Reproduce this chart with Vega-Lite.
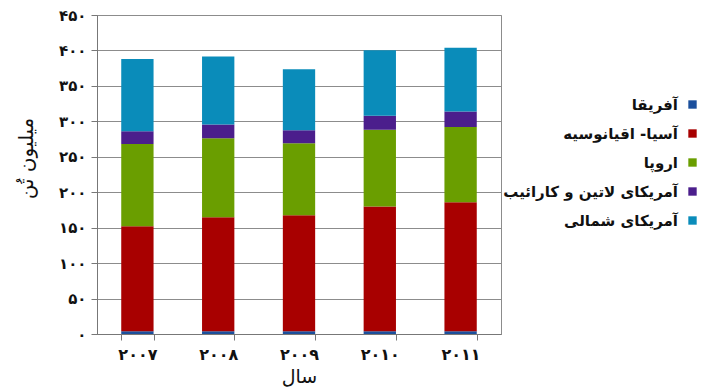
{
  "$schema": "https://vega.github.io/schema/vega-lite/v6.json",
  "width": 404,
  "height": 319,
  "autosize": "none",
  "padding": {"left": 97, "top": 15, "right": 216, "bottom": 56},
  "background": "white",
  "config": {
    "font": "DejaVu Sans",
    "view": {"stroke": "#8c8c8c", "strokeWidth": 1}
  },
  "data": {
    "values": [
      {"year": "۲۰۰۷", "region": "آفریقا", "k": 1, "value": 4},
      {"year": "۲۰۰۷", "region": "آسیا- اقیانوسیه", "k": 2, "value": 148},
      {"year": "۲۰۰۷", "region": "اروپا", "k": 3, "value": 116},
      {"year": "۲۰۰۷", "region": "آمریکای لاتین و کارائیب", "k": 4, "value": 18},
      {"year": "۲۰۰۷", "region": "آمریکای شمالی", "k": 5, "value": 102},
      {"year": "۲۰۰۸", "region": "آفریقا", "k": 1, "value": 4},
      {"year": "۲۰۰۸", "region": "آسیا- اقیانوسیه", "k": 2, "value": 160.6},
      {"year": "۲۰۰۸", "region": "اروپا", "k": 3, "value": 111.6},
      {"year": "۲۰۰۸", "region": "آمریکای لاتین و کارائیب", "k": 4, "value": 19.2},
      {"year": "۲۰۰۸", "region": "آمریکای شمالی", "k": 5, "value": 96.2},
      {"year": "۲۰۰۹", "region": "آفریقا", "k": 1, "value": 4},
      {"year": "۲۰۰۹", "region": "آسیا- اقیانوسیه", "k": 2, "value": 163.4},
      {"year": "۲۰۰۹", "region": "اروپا", "k": 3, "value": 101.8},
      {"year": "۲۰۰۹", "region": "آمریکای لاتین و کارائیب", "k": 4, "value": 18.3},
      {"year": "۲۰۰۹", "region": "آمریکای شمالی", "k": 5, "value": 85.8},
      {"year": "۲۰۱۰", "region": "آفریقا", "k": 1, "value": 4},
      {"year": "۲۰۱۰", "region": "آسیا- اقیانوسیه", "k": 2, "value": 176},
      {"year": "۲۰۱۰", "region": "اروپا", "k": 3, "value": 108},
      {"year": "۲۰۱۰", "region": "آمریکای لاتین و کارائیب", "k": 4, "value": 19.7},
      {"year": "۲۰۱۰", "region": "آمریکای شمالی", "k": 5, "value": 92.4},
      {"year": "۲۰۱۱", "region": "آفریقا", "k": 1, "value": 4},
      {"year": "۲۰۱۱", "region": "آسیا- اقیانوسیه", "k": 2, "value": 181.7},
      {"year": "۲۰۱۱", "region": "اروپا", "k": 3, "value": 106.4},
      {"year": "۲۰۱۱", "region": "آمریکای لاتین و کارائیب", "k": 4, "value": 21.7},
      {"year": "۲۰۱۱", "region": "آمریکای شمالی", "k": 5, "value": 90}
    ]
  },
  "mark": {"type": "bar"},
  "encoding": {
    "x": {
      "field": "year",
      "type": "ordinal",
      "sort": null,
      "title": "سال",
      "scale": {"paddingInner": 0.6, "paddingOuter": 0.3},
      "axis": {
        "labelAngle": 0,
        "labelFontSize": 16,
        "labelFontWeight": "bold",
        "labelColor": "#111",
        "labelPadding": 6,
        "tickBand": "extent",
        "tickSize": 6,
        "tickColor": "#777",
        "domainColor": "#777",
        "titleFontSize": 19,
        "titleFontWeight": "normal",
        "titleColor": "#111",
        "titlePadding": 5
      }
    },
    "y": {
      "field": "value",
      "type": "quantitative",
      "stack": "zero",
      "title": "میلیون تُن",
      "scale": {"domain": [0, 450], "nice": false},
      "axis": {
        "values": [0, 50, 100, 150, 200, 250, 300, 350, 400, 450],
        "labelExpr": "replace(replace(replace(replace(replace(replace(datum.label, /0/g, '۰'), /1/g, '۱'), /2/g, '۲'), /3/g, '۳'), /4/g, '۴'), /5/g, '۵')",
        "labelFontSize": 15,
        "labelFontWeight": "bold",
        "labelColor": "#111",
        "labelPadding": 5,
        "tickSize": 6,
        "tickColor": "#777",
        "domainColor": "#777",
        "gridColor": "#8c8c8c",
        "gridOpacity": 1,
        "titleFontSize": 20,
        "titleFontWeight": "normal",
        "titleColor": "#111",
        "titlePadding": 22,
        "titleY": 143
      }
    },
    "color": {
      "field": "region",
      "type": "nominal",
      "sort": ["آفریقا", "آسیا- اقیانوسیه", "اروپا", "آمریکای لاتین و کارائیب", "آمریکای شمالی"],
      "scale": {
        "domain": ["آفریقا", "آسیا- اقیانوسیه", "اروپا", "آمریکای لاتین و کارائیب", "آمریکای شمالی"],
        "range": ["#1B4F9C", "#A80000", "#6A9E00", "#4B1E8C", "#0A8CBA"]
      },
      "legend": {
        "title": null,
        "orient": "none",
        "legendX": 588,
        "legendY": 82,
        "padding": 0,
        "symbolType": "square",
        "symbolSize": 70,
        "symbolStrokeWidth": 0,
        "labelAlign": "right",
        "labelOffset": -22,
        "labelFontSize": 15,
        "labelFontWeight": "bold",
        "labelColor": "#111",
        "labelLimit": 300,
        "rowPadding": 13
      }
    },
    "order": {"field": "k", "type": "quantitative"}
  }
}
